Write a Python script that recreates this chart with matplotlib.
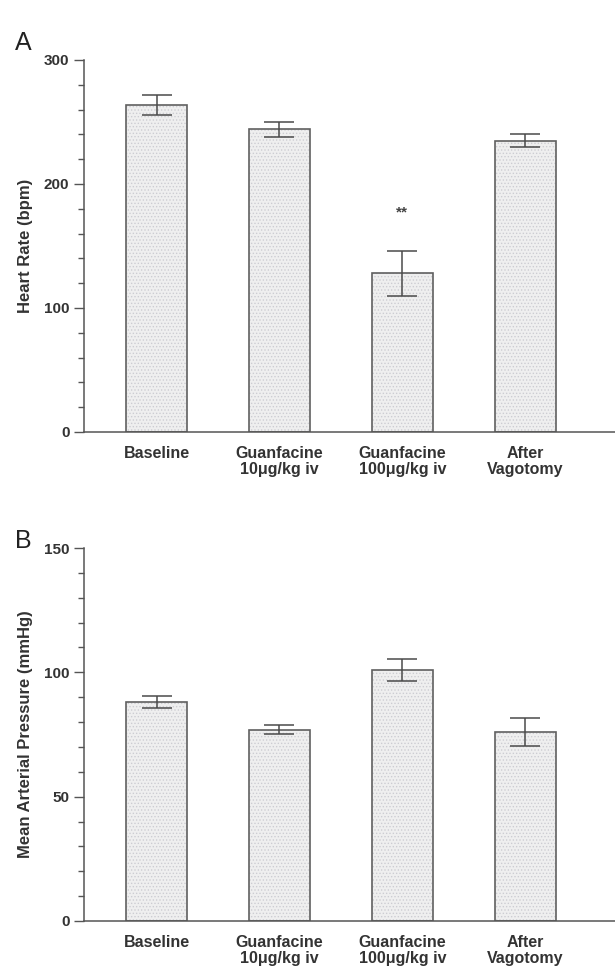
import numpy as np
import matplotlib.pyplot as plt
from matplotlib.ticker import MultipleLocator

plt.rcParams['font.family'] = ['Liberation Sans', 'DejaVu Sans']
plt.rcParams['hatch.linewidth'] = 0.6

groups = ["Baseline", "Guanfacine\n10\u03bcg/kg iv", "Guanfacine\n100\u03bcg/kg iv", "After\nVagotomy"]

hr_mean = [264, 244, 128, 235]
hr_err = [8, 6, 18, 5]

map_mean = [88, 77, 101, 76]
map_err = [2.5, 2.0, 4.5, 5.8]

edge = '#606060'
fill = '#efefef'


def draw_panel(ax, means, errs, ymax, major, minor, ylabel):
    x = np.arange(len(means))
    # stippled fill, then the outline on top
    ax.bar(x, means, width=0.5, color=fill, edgecolor='#cdcdd2', hatch='.....', linewidth=0, zorder=1)
    ax.bar(x, means, width=0.5, color='none', edgecolor=edge, linewidth=1.2, zorder=2)
    ax.errorbar(x, means, yerr=errs, fmt='none', ecolor='#4a4a4a', elinewidth=1.1,
                capsize=11, capthick=1.1, zorder=3)
    ax.set_xlim(-0.59, 3.73)
    ax.set_ylim(0, ymax)
    ax.yaxis.set_major_locator(MultipleLocator(major))
    ax.yaxis.set_minor_locator(MultipleLocator(minor))
    ax.set_xticks(x)
    ax.set_xticklabels(groups, fontsize=11.5, fontweight='bold', color='#333333', linespacing=1.1)
    ax.tick_params(axis='x', length=0, pad=10)
    ax.tick_params(axis='y', which='major', length=7, width=1, colors='#555555', labelsize=11)
    ax.tick_params(axis='y', which='minor', length=4, width=1, colors='#555555')
    for lab in ax.get_yticklabels():
        lab.set_fontweight('bold')
        lab.set_color('#333333')
    ax.set_ylabel(ylabel, fontsize=12, fontweight='bold', color='#333333', labelpad=8)
    for s in ['top', 'right']:
        ax.spines[s].set_visible(False)
    for s in ['left', 'bottom']:
        ax.spines[s].set_color('#555555')
        ax.spines[s].set_linewidth(1.1)


fig = plt.figure(figsize=(6.15, 9.66), dpi=100)
axA = fig.add_axes([0.1366, 0.5528, 0.8634, 0.3851])
axB = fig.add_axes([0.1366, 0.0466, 0.8634, 0.3861])

draw_panel(axA, hr_mean, hr_err, 300, 100, 20, "Heart Rate (bpm)")
draw_panel(axB, map_mean, map_err, 150, 50, 10, "Mean Arterial Pressure (mmHg)")

axA.text(2, 177, "**", ha='center', va='center', fontsize=11, fontweight='bold', color='#444444')

fig.text(0.024, 0.955, "A", fontsize=18, color='#222222', va='center')
fig.text(0.024, 0.44, "B", fontsize=18, color='#222222', va='center')

fig.savefig("out.png", dpi=100)
